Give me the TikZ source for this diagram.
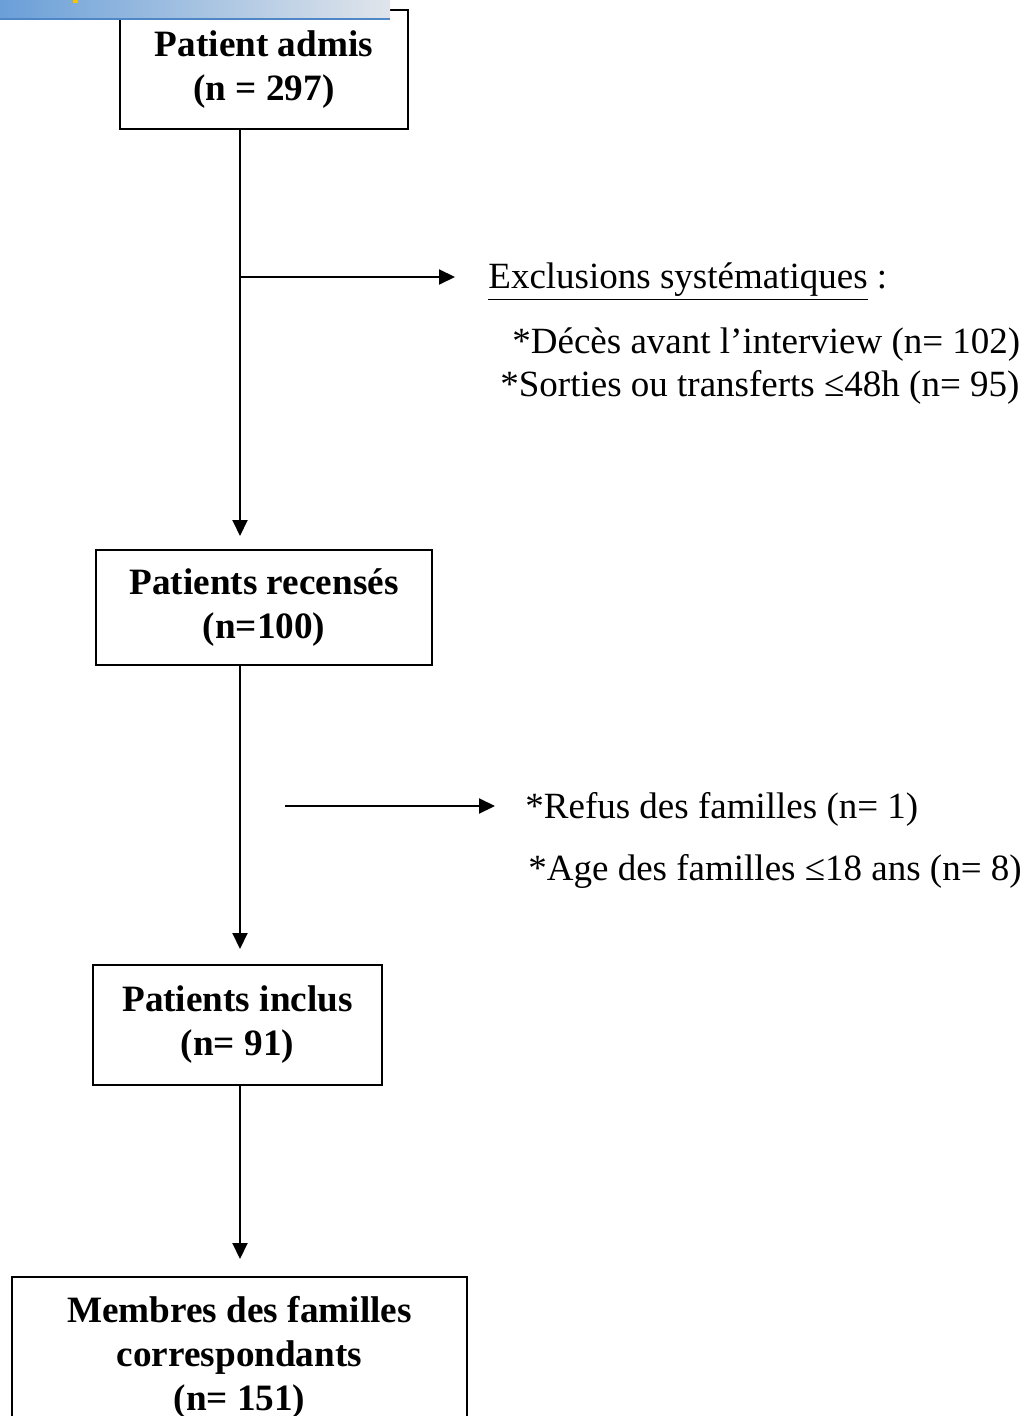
\documentclass[tikz,border=0pt]{standalone}
\usepackage{fontspec}
\setmainfont{Liberation Serif}
\usetikzlibrary{arrows.meta}

\definecolor{bandleft}{HTML}{6A9FD8}
\definecolor{bandright}{HTML}{E0E5EB}
\definecolor{bandline}{HTML}{4F86C6}
\definecolor{bandmark}{HTML}{F5C400}

\begin{document}
\begin{tikzpicture}[x=0.5pt,y=-0.5pt,
    box/.style={draw,line width=1pt,align=center,inner sep=0pt,
      font=\bfseries\fontsize{18.6}{22}\selectfont},
    note/.style={anchor=base west,inner sep=0pt,font=\fontsize{18.5}{22}\selectfont},
    flow/.style={line width=1pt,-{Triangle[length=8pt,width=7.5pt]}}]
  \clip (0,0) rectangle (1033,1416);
  \useasboundingbox (0,0) rectangle (1033,1416);
  \coordinate (spine) at (240,0);
  % boxes
  \node[box,minimum width=144pt,minimum height=59.5pt] (admis) at (264,69.5) {Patient admis\\(n = 297)};
  \node[box,minimum width=168pt,minimum height=57.5pt] (recenses) at (264,607.5) {Patients recensés\\(n=100)};
  \node[box,minimum width=144.5pt,minimum height=60pt] (inclus) at (237.5,1025) {Patients inclus\\(n= 91)};
  \node[box,minimum width=227.5pt,minimum height=80.5pt] (membres) at (239.5,1357.5) {Membres des familles\\correspondants\\(n= 151)};
  % exclusions
  \node[note] (excl) at (488,289) {\underline{Exclusions systématiques} :};
  \node[note] (deces) at (512,354) {*Décès avant l’interview (n= 102)};
  \node[note] (sorties) at (500,397) {*Sorties ou transferts ≤48h (n= 95)};
  \node[note] (refus) at (525,818) {*Refus des familles (n= 1)};
  \node[note] (age) at (528,880) {*Age des familles ≤18 ans (n= 8)};
  % arrows
  \draw[flow,shorten >=6.5pt] (admis.south -| spine) -- (recenses.north -| spine);
  \draw[flow,shorten >=7.5pt] (recenses.south -| spine) -- (inclus.north -| spine);
  \draw[flow,shorten >=8.5pt] (inclus.south -| spine) -- (membres.north -| spine);
  \coordinate (fork1) at (240,277);
  \coordinate (fork2) at (285,806);
  \draw[flow,shorten >=16.5pt] (fork1) -- (fork1 -| excl.west);
  \draw[flow,shorten >=15pt] (fork2) -- (fork2 -| refus.west);
  % band at the top
  \shade[left color=bandleft,right color=bandright] (0,0) rectangle (390,19);
  \fill[bandline] (0,18) rectangle (390,20);
  \fill[bandmark] (73,0) rectangle (78,3);
\end{tikzpicture}
\end{document}
